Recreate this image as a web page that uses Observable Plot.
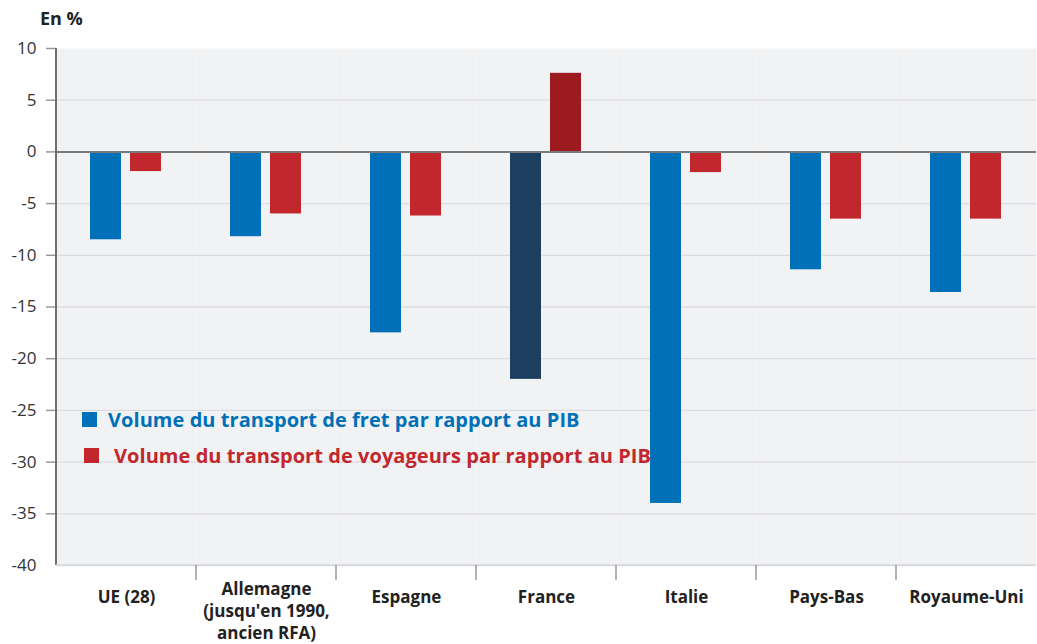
<!DOCTYPE html>
<html>
<head>
<meta charset="utf-8">
<script src="https://cdn.jsdelivr.net/npm/d3@7"></script>
<script src="https://cdn.jsdelivr.net/npm/@observablehq/plot@0.6"></script>
<style>
  html, body { margin: 0; padding: 0; background: #fff; }
  body { font-family: "Open Sans", sans-serif; }
  #wrap { position: relative; width: 1037px; height: 644px; }
  #unit { position: absolute; left: 40px; top: 6px; font-weight: bold; font-size: 18px; color: #222; }
  #legend { position: absolute; left: 82px; top: 401px; }
  .row { display: flex; align-items: center; height: 36px; font-weight: bold; font-size: 20px; white-space: nowrap; letter-spacing: 0.05px; }
  .sw { width: 15px; height: 15px; }
</style>
</head>
<body>
<div id="wrap">
  <div id="unit">En %</div>
  <div id="chart"></div>
  <div id="legend"></div>
</div>
<script>
const countries = ["UE (28)", "Allemagne\n(jusqu'en 1990,\nancien RFA)", "Espagne", "France", "Italie", "Pays-Bas", "Royaume-Uni"];
const fret = [-8.5, -8.2, -17.5, -22.0, -34.0, -11.4, -13.6];
const voyageurs = [-1.9, -6.0, -6.2, 7.6, -2.0, -6.5, -6.5];
const seriesKeys = ["fret", "voyageurs"];
const seriesNames = ["Volume du transport de fret par rapport au PIB", "Volume du transport de voyageurs par rapport au PIB"];
const seriesColors = ["#0070b8", "#c1272d"];
const highlightColors = ["#1c3f5f", "#9b1b20"];
const highlighted = "France";
const yTicks = [-40, -35, -30, -25, -20, -15, -10, -5, 0, 5, 10];

const rows = countries.flatMap((c, i) => [
  {country: c, serie: "fret", value: fret[i]},
  {country: c, serie: "voyageurs", value: voyageurs[i]}
]);
const colorOf = d => {
  const k = seriesKeys.indexOf(d.serie);
  return d.country === highlighted ? highlightColors[k] : seriesColors[k];
};
const singleLine = countries.filter(c => !c.includes("\n"));
const multiLine = countries.filter(c => c.includes("\n"));

const chart = Plot.plot({
  width: 1037,
  height: 644,
  marginTop: 48,
  marginBottom: 79,
  marginLeft: 55,
  marginRight: 0,
  style: {fontFamily: "'Open Sans', sans-serif", background: "transparent"},
  fx: {domain: countries, padding: 0, label: null},
  x: {domain: seriesKeys, paddingInner: 0.22, paddingOuter: 0.85, axis: null},
  y: {domain: [-40, 10], label: null},
  marks: [
    Plot.frame({fill: "#f1f2f4", stroke: null}),
    Plot.ruleY(yTicks.filter(d => d !== 0 && d !== 10), {stroke: "#dcdde1", strokeWidth: 1.3}),
    Plot.barY(rows, {fx: "country", x: "serie", y: "value", fill: colorOf}),
    Plot.ruleY([0], {stroke: "#7a7a7a", strokeWidth: 2}),
    Plot.axisY({ticks: yTicks.filter(d => d !== -40), tickFormat: d => String(d), tickSize: 10, tickPadding: 10, fontSize: 17, stroke: "#999", color: "#333", strokeWidth: 1.5}),
    Plot.axisY({ticks: [-40], tickFormat: d => String(d), tickSize: 0, tickPadding: 20, fontSize: 17, color: "#333"}),
    Plot.axisFx({ticks: singleLine, tickSize: 0, tickPadding: 25, fontSize: 17, fontWeight: "bold", fill: "#222", anchor: "bottom"}),
    Plot.axisFx({ticks: multiLine, tickSize: 0, tickPadding: 14, fontSize: 17, fontWeight: "bold", lineHeight: 1.3, fill: "#222", anchor: "bottom"})
  ]
});
document.getElementById("chart").appendChild(chart);

// axis line and category separators, placed through Plot's own scales
const fxs = chart.scale("fx");
const ys = chart.scale("y");
const svg = d3.select(chart);
const yTop = ys.apply(10), yBot = ys.apply(-40);
const xLeft = fxs.apply(countries[0]);
svg.append("line").attr("x1", xLeft).attr("x2", xLeft).attr("y1", yTop).attr("y2", yBot)
  .attr("stroke", "#6f6f6f").attr("stroke-width", 2);
svg.append("line").attr("x1", xLeft).attr("x2", fxs.apply(countries[countries.length - 1]) + fxs.bandwidth).attr("y1", yBot).attr("y2", yBot)
  .attr("stroke", "#d6d7da").attr("stroke-width", 1.5);
countries.slice(1).forEach(c => {
  const x = fxs.apply(c);
  svg.append("line").attr("x1", x).attr("x2", x).attr("y1", yBot).attr("y2", yBot + 15)
    .attr("stroke", "#9a9a9a").attr("stroke-width", 1.5);
});

// legend
const legend = d3.select("#legend");
const swatchGap = [11, 15];
const swatchShift = [0, 2];
seriesNames.forEach((name, k) => {
  const r = legend.append("div").attr("class", "row").style("color", seriesColors[k]);
  r.append("div").attr("class", "sw").style("background", seriesColors[k])
    .style("margin-left", swatchShift[k] + "px").style("margin-right", swatchGap[k] + "px");
  r.append("span").text(name);
});
</script>
</body>
</html>
